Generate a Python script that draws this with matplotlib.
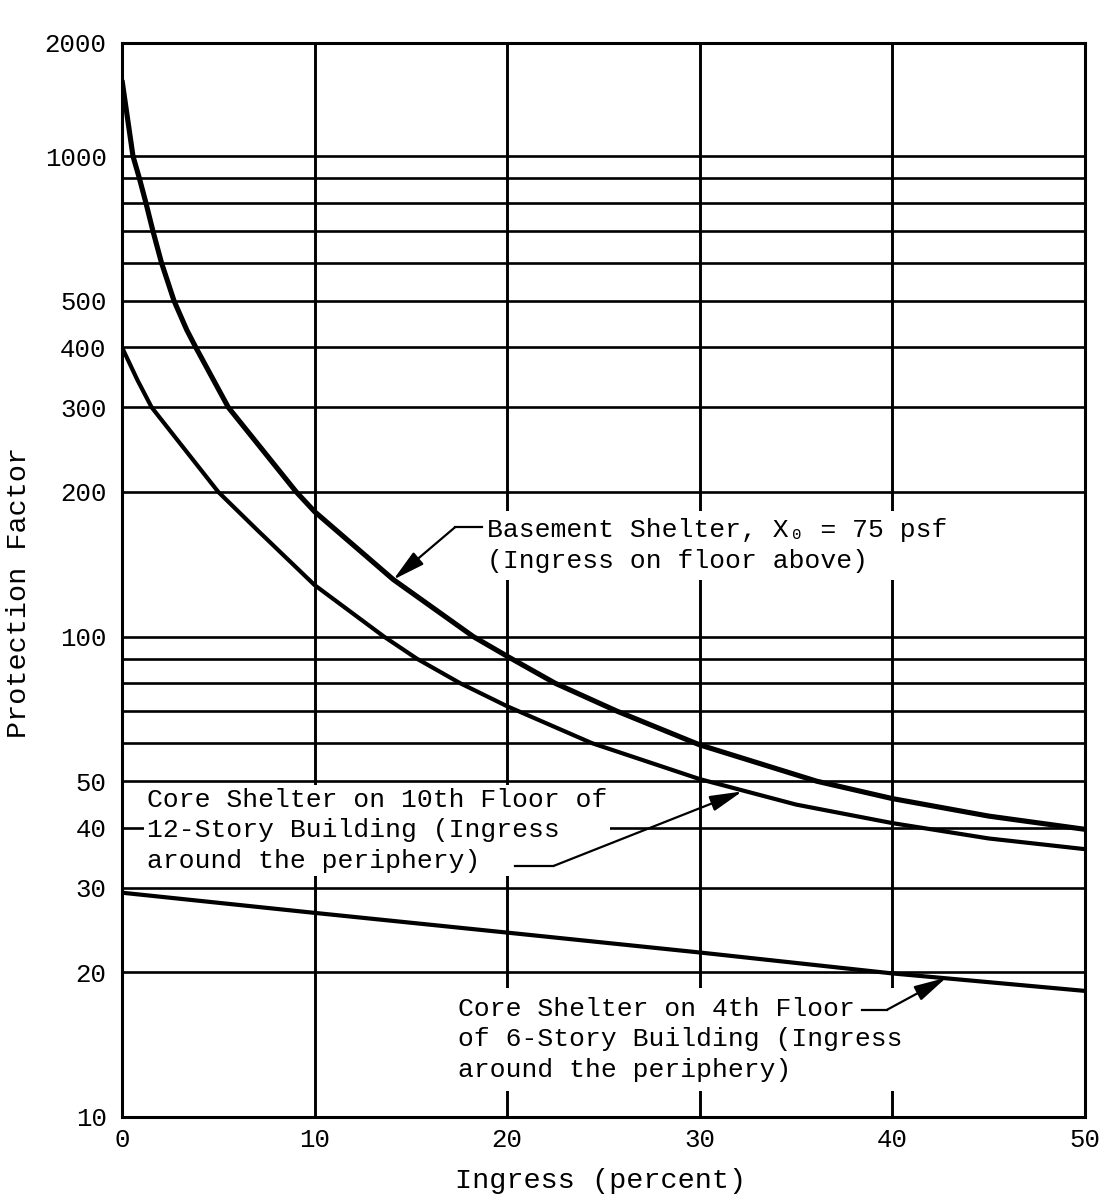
import numpy as np
import matplotlib
matplotlib.use("Agg")
import matplotlib.pyplot as plt
from matplotlib.patches import ArrowStyle

plt.rcParams['font.family'] = ['Liberation Mono', 'DejaVu Sans Mono']

# ---------------- data ----------------
basement_x = [0, 0.57, 0.90, 1.24, 1.60, 2.05, 2.70, 3.36, 3.83, 5.52, 9.05, 10, 14.09, 18.24, 20, 22.48, 25.68, 30, 36.07, 40, 45, 50]
basement_y = [1440, 1000, 900, 800, 700, 600, 500, 435, 400, 300, 200, 182, 131.4, 100, 91, 80, 70, 59.5, 50, 46.0, 42.3, 39.7]

core10_x = [0, 0.8, 1.54, 5.0, 7.0, 10, 13.6, 15.3, 17.55, 20, 24.4, 30, 35, 40, 45, 50]
core10_y = [400, 342, 300, 200, 167, 128, 100, 90, 80, 71.6, 60, 50.5, 44.7, 40.9, 38.0, 36.1]

core4_x = [0, 10, 20, 30, 40, 50]
core4_y = [29.3, 26.6, 24.2, 22.0, 19.9, 18.3]

x_ticks = [0, 10, 20, 30, 40, 50]
y_grid = [20, 30, 40, 50, 60, 70, 80, 90, 100, 200, 300, 400, 500, 600, 700, 800, 900, 1000]
y_labelled = [10, 20, 30, 40, 50, 100, 200, 300, 400, 500, 1000]
y_top = 1720
y_top_label = "2000"

label_basement = "Basement Shelter, X\u2080 = 75 psf\n(Ingress on floor above)"
label_core10 = "Core Shelter on 10th Floor of\n12-Story Building (Ingress\naround the periphery)"
label_core4 = "Core Shelter on 4th Floor\nof 6-Story Building (Ingress\naround the periphery)"

# ---------------- figure ----------------
W, H = 1109, 1201
fig = plt.figure(figsize=(W / 100, H / 100), dpi=100)
L, R, B, T = 122, 1085, 1117, 43
ax = fig.add_axes([L / W, 1 - B / H, (R - L) / W, (B - T) / H])

ax.set_yscale('log')
ax.set_xlim(0, 50)
ax.set_ylim(10, y_top)

# grid
for yv in y_grid:
    ax.axhline(yv, color='black', lw=1.9, zorder=1)
for xv in x_ticks[1:-1]:
    ax.axvline(xv, color='black', lw=2.1, zorder=1)

# curves
ax.plot(basement_x, basement_y, color='black', lw=3.7, zorder=4,
        solid_capstyle='butt', solid_joinstyle='round')
ax.plot(core10_x, core10_y, color='black', lw=3.0, zorder=4,
        solid_capstyle='butt', solid_joinstyle='round')
ax.plot(core4_x, core4_y, color='black', lw=3.0, zorder=4,
        solid_capstyle='butt', solid_joinstyle='round')

# ticks
ax.set_xticks(x_ticks)
ax.set_xticklabels([str(v) for v in x_ticks])
ax.set_yticks(y_labelled + [y_top])
ax.set_yticklabels([str(v) for v in y_labelled] + [y_top_label])
ax.yaxis.set_minor_locator(matplotlib.ticker.NullLocator())
ax.tick_params(axis='both', length=0, labelsize=18.5)
ax.tick_params(axis='y', pad=11)
ax.tick_params(axis='x', pad=8)
for s in ax.spines.values():
    s.set_linewidth(2.2)
    s.set_zorder(5)

# axis labels
fig.text(19 / W, 1 - 592 / H, "Protection Factor", rotation=90, ha='center', va='center', fontsize=20.5)
fig.text(601 / W, 1 - 1181 / H, "Ingress (percent)", ha='center', va='center', fontsize=20.5)

arrow = ArrowStyle('-|>', head_length=0.9, head_width=0.22)
FS = 19
LS = 1.36

# Basement annotation
ax.text(18.95, 154.6, label_basement, ha='left', va='center', fontsize=FS, linespacing=LS, zorder=3,
        bbox=dict(facecolor='white', edgecolor='none', pad=5))
ax.plot([18.7, 17.3], [169, 169], color='black', lw=1.6, zorder=4)
ax.annotate('', xy=(14.09, 131.4), xytext=(17.3, 169),
            arrowprops=dict(arrowstyle=arrow, color='black', lw=1.6, mutation_scale=22,
                            shrinkA=0, shrinkB=0), zorder=4)

# Core 10th annotation
ax.text(1.3, 39.5, label_core10, ha='left', va='center', fontsize=FS, linespacing=LS, zorder=3,
        bbox=dict(facecolor='white', edgecolor='none', pad=2.0))
ax.plot([20.4, 22.4], [33.3, 33.3], color='black', lw=1.6, zorder=4)
ax.annotate('', xy=(32.2, 47.6), xytext=(22.4, 33.3),
            arrowprops=dict(arrowstyle=arrow, color='black', lw=1.6, mutation_scale=22,
                            shrinkA=0, shrinkB=0), zorder=4)

# Core 4th annotation
ax.text(17.45, 14.5, label_core4, ha='left', va='center', fontsize=FS, linespacing=LS, zorder=3,
        bbox=dict(facecolor='white', edgecolor='none', pad=6))
ax.plot([38.4, 39.7], [16.7, 16.7], color='black', lw=1.6, zorder=4)
ax.annotate('', xy=(42.8, 19.5), xytext=(39.7, 16.7),
            arrowprops=dict(arrowstyle=arrow, color='black', lw=1.6, mutation_scale=22,
                            shrinkA=0, shrinkB=0), zorder=4)

fig.savefig('out.png', dpi=100, facecolor='white')
